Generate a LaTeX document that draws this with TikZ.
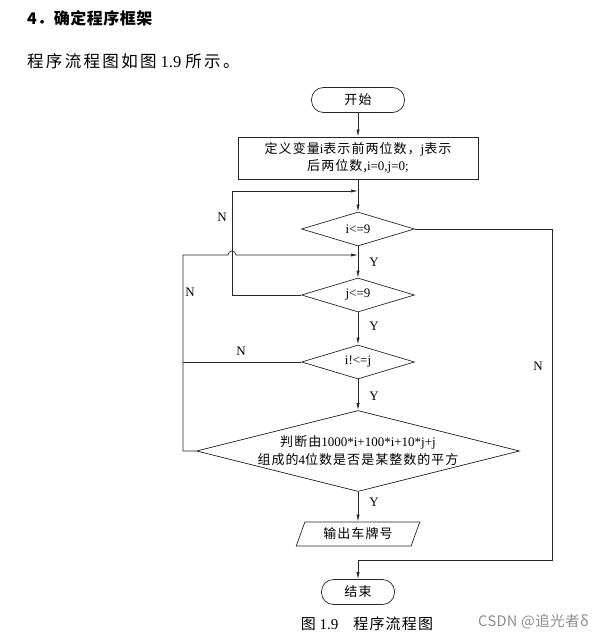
\documentclass[tikz,border=0pt]{standalone}
\usepackage{fontspec}
\setmainfont{Liberation Serif}
\newfontfamily\cjk[LetterSpace=8]{Noto Sans CJK SC}
\newfontfamily\cjkw[LetterSpace=3]{Noto Sans CJK SC}
\newfontfamily\cjki[LetterSpace=14]{Noto Sans CJK SC}
\usetikzlibrary{shapes.geometric,arrows.meta}
\begin{document}
\begin{tikzpicture}[x=1pt,y=-1pt,
  every node/.style={font=\fontsize{13}{17}\selectfont, inner sep=0pt},
  ln/.style={line width=0.7pt, draw=black!85},
  arr/.style={ln, -{Latex[length=7pt,width=3.2pt]}},
  term/.style={ln, rectangle, rounded corners=12pt, minimum height=25pt},
  proc/.style={ln, rectangle, minimum width=240pt, minimum height=42pt, align=center},
  dec/.style={ln, diamond, shape aspect=3.3, minimum width=113pt, minimum height=34pt, align=center},
  io/.style={ln, trapezium, trapezium left angle=65, trapezium right angle=115, trapezium stretches=true, minimum width=124pt, minimum height=24pt},
  lab/.style={font=\fontsize{13}{14}\selectfont}
]
\useasboundingbox (0,0) rectangle (614,639);
\node[anchor=west, font=\fontsize{16}{18}\selectfont\cjkw\bfseries] (title) at (27,18) {4．确定程序框架};
\node[anchor=west, font=\fontsize{16.5}{18}\selectfont] (intro) at (27,61) {{\cjki 程序流程图如图} 1.9 {\cjki 所示。}};

\node[term, minimum width=93pt] (start) at (358,100) {\cjk 开始};
\node[proc] (init) at (358,158) {{\cjk 定义变量}i{\cjk 表示前两位数，}j{\cjk 表示}\\{\cjk 后两位数,}i=0,j=0;};
\node[dec] (d1) at (358,229) {i<=9};
\node[dec] (d2) at (358,295) {j<=9};
\node[dec] (d3) at (358,362) {i!<=j};
\node[dec, shape aspect=4, minimum width=323pt, minimum height=81pt, font=\fontsize{13}{18}\selectfont] (d4) at (358,451) {{\cjk 判断由}1000*i+100*i+10*j+j\\{\cjk 组成的}4{\cjk 位数是否是某整数的平方}};
\node[io] (out) at (358,534) {\cjk 输出车牌号};
\node[term, minimum width=73pt] (end) at (358,592) {\cjk 结束};

\coordinate (j1) at (358,191);
\coordinate (j2) at (358,255);
\coordinate (m1) at (358,560);

\draw[arr] (start) -- (init);
\draw[arr] (init) -- (d1);
\draw[arr] (d1) -- (d2);
\draw[arr] (d2) -- (d3);
\draw[arr] (d3) -- (d4);
\draw[arr] (d4) -- (out);

\draw[arr] (d2.west) -- (232,295) -- (232,191) -- (j1);
\draw[arr] (d4.west) -- (183,451) -- (183,255) -- (228,255) arc[start angle=180, end angle=0, radius=4pt] -- (j2);
\draw[ln] (d3.west) -- (183,362);
\draw[ln] (d1.east) -- (552,229) -- (552,560) -- (m1);
\draw[arr] (m1) -- (end);

\node[lab] (n1) at (222,217) {N};
\node[lab] (n2) at (190,292) {N};
\node[lab] (n3) at (241,351) {N};
\node[lab] (n4) at (538,366) {N};
\node[lab] (y1) at (374,262) {Y};
\node[lab] (y2) at (374,326) {Y};
\node[lab] (y3) at (374,396) {Y};
\node[lab] (y4) at (374,502) {Y};

\node[font=\fontsize{15}{16}\selectfont] (cap) at (367,624) {{\cjk 图} 1.9\quad{\cjk 程序流程图}};
\node[anchor=west, text=black!45, font=\fontsize{14.5}{15}\selectfont\cjkw] (wm) at (478,622) {CSDN @追光者δ};
\end{tikzpicture}
\end{document}
